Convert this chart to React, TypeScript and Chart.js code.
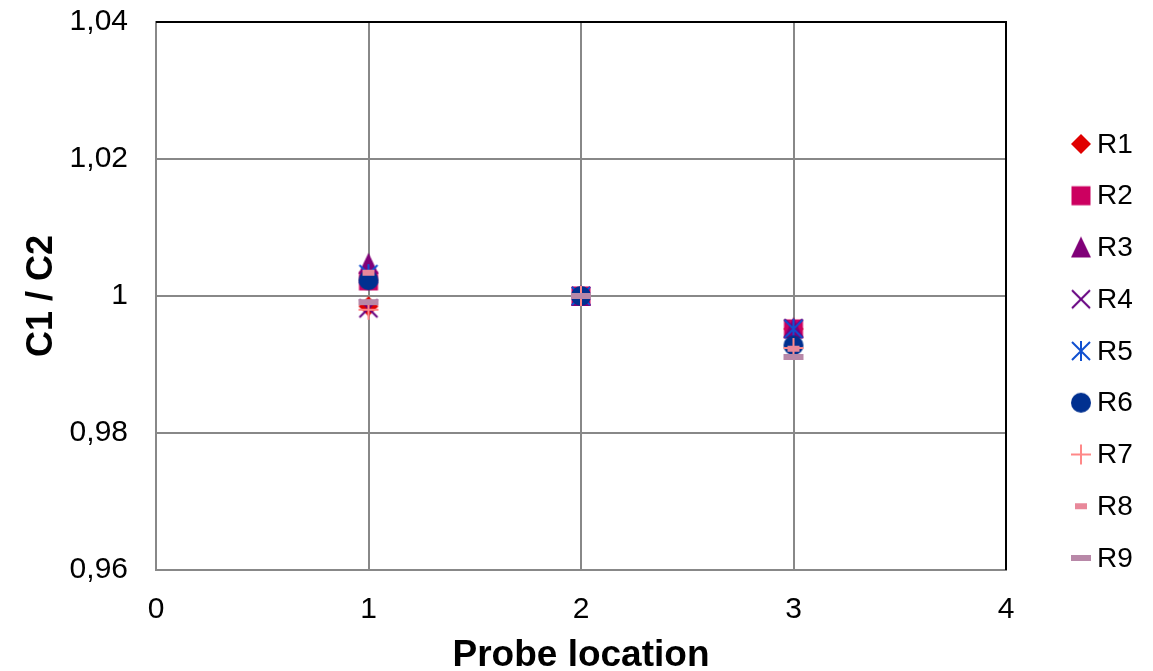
import React, { useEffect, useRef } from "react";
import { Chart, registerables } from "chart.js";

Chart.register(...registerables);

const seriesNames = ["R1", "R2", "R3", "R4", "R5", "R6", "R7", "R8", "R9"];
const probeLocations = [1, 2, 3];
const r1 = [0.9985, 1.0, 0.9952];
const r2 = [1.0022, 1.0, 0.9952];
const r3 = [1.0047, 1.0, 0.9953];
const r4 = [0.9982, 1.0, 0.9953];
const r5 = [1.0032, 1.0, 0.9952];
const r6 = [1.0023, 1.0, 0.9928];
const r7 = [0.998, 1.0, 0.9924];
const r8 = [1.0034, 1.0, 0.9923];
const r9 = [0.9991, 1.0, 0.9911];
const seriesValues = [r1, r2, r3, r4, r5, r6, r7, r8, r9];
const seriesColors = ["#E00000", "#CC0060", "#800078", "#660080", "#1050D0", "#003090", "#FF8888", "#E8889A", "#B888A8"];
const markerKinds = ["diamond", "square", "triangle", "x", "asterisk", "circle", "plus", "shortDash", "longDash"];

const FONT = "'Liberation Sans', Arial, sans-serif";

function makeMarker(kind: string, color: string): HTMLCanvasElement {
  const c = document.createElement("canvas");
  const s = 24;
  c.width = s;
  c.height = s;
  const ctx = c.getContext("2d")!;
  const m = s / 2;
  ctx.fillStyle = color;
  ctx.strokeStyle = color;
  ctx.lineWidth = 2;
  ctx.beginPath();
  switch (kind) {
    case "diamond":
      ctx.moveTo(m, m - 10);
      ctx.lineTo(m + 10, m);
      ctx.lineTo(m, m + 10);
      ctx.lineTo(m - 10, m);
      ctx.closePath();
      ctx.fill();
      break;
    case "square":
      ctx.fillRect(m - 9.5, m - 9.5, 19, 19);
      break;
    case "triangle":
      ctx.moveTo(m, m - 11);
      ctx.lineTo(m + 10, m + 10);
      ctx.lineTo(m - 10, m + 10);
      ctx.closePath();
      ctx.fill();
      break;
    case "x":
      ctx.moveTo(m - 9, m - 9);
      ctx.lineTo(m + 9, m + 9);
      ctx.moveTo(m + 9, m - 9);
      ctx.lineTo(m - 9, m + 9);
      ctx.stroke();
      break;
    case "asterisk":
      ctx.moveTo(m - 9, m - 9);
      ctx.lineTo(m + 9, m + 9);
      ctx.moveTo(m + 9, m - 9);
      ctx.lineTo(m - 9, m + 9);
      ctx.moveTo(m, m - 10);
      ctx.lineTo(m, m + 10);
      ctx.stroke();
      break;
    case "circle":
      ctx.arc(m, m, 10, 0, Math.PI * 2);
      ctx.fill();
      break;
    case "plus":
      ctx.moveTo(m - 10, m);
      ctx.lineTo(m + 10, m);
      ctx.moveTo(m, m - 10);
      ctx.lineTo(m, m + 10);
      ctx.stroke();
      break;
    case "shortDash":
      ctx.fillRect(m - 6, m - 3, 12, 6);
      break;
    case "longDash":
      ctx.fillRect(m - 10, m - 3, 20, 6);
      break;
  }
  return c;
}

export default function App() {
  const canvasRef = useRef<HTMLCanvasElement | null>(null);

  useEffect(() => {
    const markers = seriesNames.map((_, i) => makeMarker(markerKinds[i], seriesColors[i]));

    const frameAndLegend = {
      id: "frameAndLegend",
      afterDatasetsDraw(chart: any) {
        const { ctx, chartArea } = chart;
        ctx.save();
        ctx.strokeStyle = "#000000";
        ctx.lineWidth = 2;
        ctx.beginPath();
        ctx.moveTo(chartArea.left, chartArea.top);
        ctx.lineTo(chartArea.right, chartArea.top);
        ctx.lineTo(chartArea.right, chartArea.bottom);
        ctx.stroke();
        ctx.restore();
      },
      afterDraw(chart: any) {
        const { ctx } = chart;
        ctx.save();
        ctx.font = `28px ${FONT}`;
        ctx.fillStyle = "#000000";
        ctx.textBaseline = "middle";
        ctx.textAlign = "left";
        seriesNames.forEach((name, i) => {
          const y = 144 + i * 51.75;
          const mk = markers[i];
          ctx.drawImage(mk, 1081 - mk.width / 2, y - mk.height / 2);
          ctx.fillText(name, 1097, y + 1);
        });
        ctx.restore();
      },
    };

    const chart = new Chart(canvasRef.current!, {
      type: "scatter",
      data: {
        datasets: seriesNames.map((name, i) => ({
          label: name,
          data: probeLocations.map((x, j) => ({ x, y: seriesValues[i][j] })),
          pointStyle: markers[i] as any,
          pointRadius: 10,
          pointHoverRadius: 10,
          backgroundColor: seriesColors[i],
          borderColor: seriesColors[i],
          showLine: false,
          order: seriesNames.length - i,
        })),
      },
      options: {
        animation: false,
        responsive: true,
        maintainAspectRatio: false,
        layout: { padding: { top: 22, left: 0, right: 147, bottom: 0 } },
        plugins: {
          legend: { display: false },
          tooltip: { enabled: false },
        },
        scales: {
          x: {
            type: "linear",
            min: 0,
            max: 4,
            afterFit: (scale: any) => {
              scale.height = 101;
              scale.paddingLeft = 0;
              scale.paddingRight = 0;
            },
            ticks: {
              stepSize: 1,
              padding: 22,
              color: "#000000",
              font: { family: FONT, size: 30 },
            },
            grid: { color: "#888888", lineWidth: 2, drawTicks: false },
            border: { color: "#888888", width: 2 },
            title: {
              display: true,
              text: "Probe location",
              color: "#000000",
              font: { family: FONT, size: 37, weight: "bold", lineHeight: 1 },
              padding: { top: 0, bottom: -3 },
            },
          },
          y: {
            type: "linear",
            min: 0.96,
            max: 1.04,
            afterFit: (scale: any) => {
              scale.width = 156;
              scale.paddingTop = 0;
              scale.paddingBottom = 0;
            },
            ticks: {
              stepSize: 0.02,
              padding: 28,
              color: "#000000",
              font: { family: FONT, size: 30 },
              callback: (v: any) => {
                const n = Number(v);
                if (Math.abs(n - 1) < 1e-9) return "1";
                return n.toFixed(2).replace(".", ",");
              },
            },
            grid: { color: "#888888", lineWidth: 2, drawTicks: false },
            border: { color: "#888888", width: 2 },
            title: {
              display: true,
              text: "C1 / C2",
              color: "#000000",
              font: { family: FONT, size: 36, weight: "bold", lineHeight: 1 },
              padding: { top: 24, bottom: 0 },
            },
          },
        },
      },
      plugins: [frameAndLegend],
    });

    return () => chart.destroy();
  }, []);

  return (
    <div style={{ position: "fixed", left: 0, top: 0, width: 1153, height: 671, background: "#ffffff" }}>
      <canvas ref={canvasRef} />
    </div>
  );
}
